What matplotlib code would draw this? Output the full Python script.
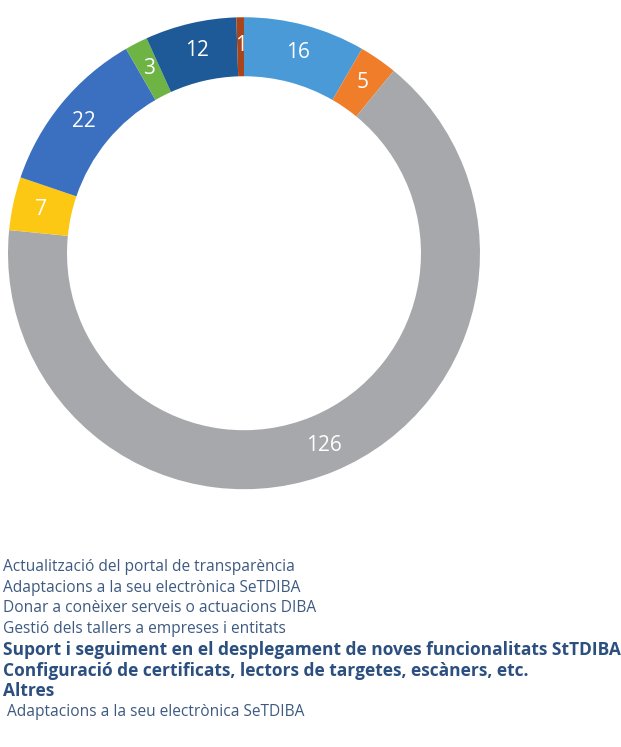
import matplotlib.pyplot as plt

# slice values, clockwise from 12 o'clock
values = [16, 5, 126, 7, 22, 3, 12, 1]
colors = ['#4a9ad8', '#ef7d2a', '#a6a8ab', '#fcc814', '#3b6fc0', '#6db445', '#1f5a98', '#a9451b']

legend_labels = [
    "Actualització del portal de transparència",
    "Adaptacions a la seu electrònica SeTDIBA",
    "Donar a conèixer serveis o actuacions DIBA",
    "Gestió dels tallers a empreses i entitats",
    "Suport i seguiment en el desplegament de noves funcionalitats StTDIBA",
    "Configuració de certificats, lectors de targetes, escàners, etc.",
    "Altres",
    " Adaptacions a la seu electrònica SeTDIBA",
]
legend_bold = [False, False, False, False, True, True, True, False]

fig = plt.figure(figsize=(6.21, 7.47), dpi=100)
ax = fig.add_axes([0.0129, 0.345, 0.760, 0.632])

wedges, texts = ax.pie(values, colors=colors, startangle=90, counterclock=False,
                       labels=[str(v) for v in values], labeldistance=0.88,
                       wedgeprops=dict(width=0.25, linewidth=0),
                       textprops=dict(color='white', fontsize=15, family='Open Sans'))
for t in texts:
    t.set_ha('center')
    t.set_va('center')
ax.set_xlim(-1, 1)
ax.set_ylim(-1, 1)
ax.set_aspect('equal')

# legend as plain text lines (no markers in the original)
y0 = 747 - 567
for i, (lab, b) in enumerate(zip(legend_labels, legend_bold)):
    fig.text(3 / 621, (y0 - i * 20.7) / 747, lab, ha='left', va='center',
             fontsize=12.5 if b else 11.2, family='Open Sans',
             fontweight='bold' if b else 'normal',
             color='#2b4f7e' if b else '#3d5a80')

fig.savefig('out.png', dpi=100)
